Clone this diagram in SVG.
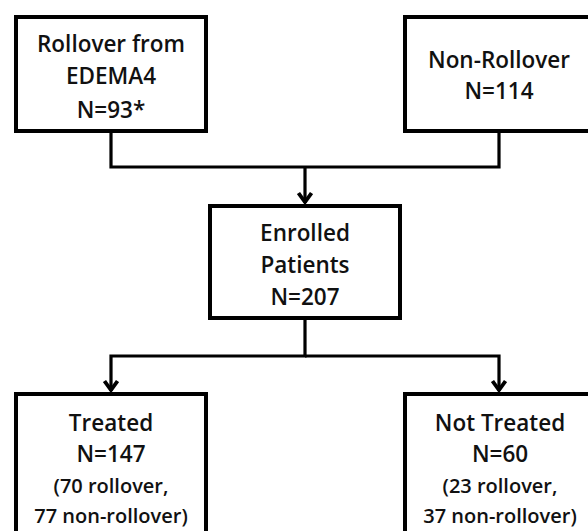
<svg xmlns="http://www.w3.org/2000/svg" width="588" height="531" viewBox="0 0 588 531">
<defs>
<style>
.box{fill:#fff;stroke:#000;stroke-width:4}
.conn{fill:none;stroke:#000;stroke-width:3.2}
.t{font-family:"Open Sans","Liberation Sans",sans-serif;font-size:22.5px;font-weight:600;fill:#111;text-anchor:middle}
.s{font-size:20px}
</style>
<marker id="arr" markerUnits="userSpaceOnUse" viewBox="0 0 14 16" refX="13" refY="8" markerWidth="14" markerHeight="16" orient="auto">
<path d="M3,1.5 L12,8 L3,14.5" fill="none" stroke="#000" stroke-width="3.8" stroke-linejoin="miter"/>
</marker>
</defs>
<g id="connectors">
<path class="conn" d="M111,133 V167 H499 V133"/>
<path class="conn" d="M305,167 V203" marker-end="url(#arr)"/>
<path class="conn" d="M305,318 V356 H111 V391" marker-end="url(#arr)"/>
<path class="conn" d="M305,356 H499 V391" marker-end="url(#arr)"/>
</g>
<g id="rollover">
<rect class="box" x="16" y="17" width="190" height="114"/>
<text class="t" x="111" y="52">Rollover from</text>
<text class="t" x="111" y="84">EDEMA4</text>
<text class="t" x="111" y="118">N=93*</text>
</g>
<g id="nonrollover">
<rect class="box" x="405" y="17" width="200" height="114"/>
<text class="t" x="499" y="68">Non-Rollover</text>
<text class="t" x="499" y="99">N=114</text>
</g>
<g id="enrolled">
<rect class="box" x="210" y="206" width="190" height="112"/>
<text class="t" x="305" y="241">Enrolled</text>
<text class="t" x="305" y="273">Patients</text>
<text class="t" x="305" y="305">N=207</text>
</g>
<g id="treated">
<rect class="box" x="16" y="394" width="190" height="160"/>
<text class="t" x="111" y="431">Treated</text>
<text class="t" x="111" y="462">N=147</text>
<text class="t s" x="111" y="493">(70 rollover,</text>
<text class="t s" x="111" y="523">77 non-rollover)</text>
</g>
<g id="nottreated">
<rect class="box" x="405" y="394" width="200" height="160"/>
<text class="t" x="500" y="431">Not Treated</text>
<text class="t" x="500" y="462">N=60</text>
<text class="t s" x="500" y="493">(23 rollover,</text>
<text class="t s" x="500" y="523">37 non-rollover)</text>
</g>
</svg>
